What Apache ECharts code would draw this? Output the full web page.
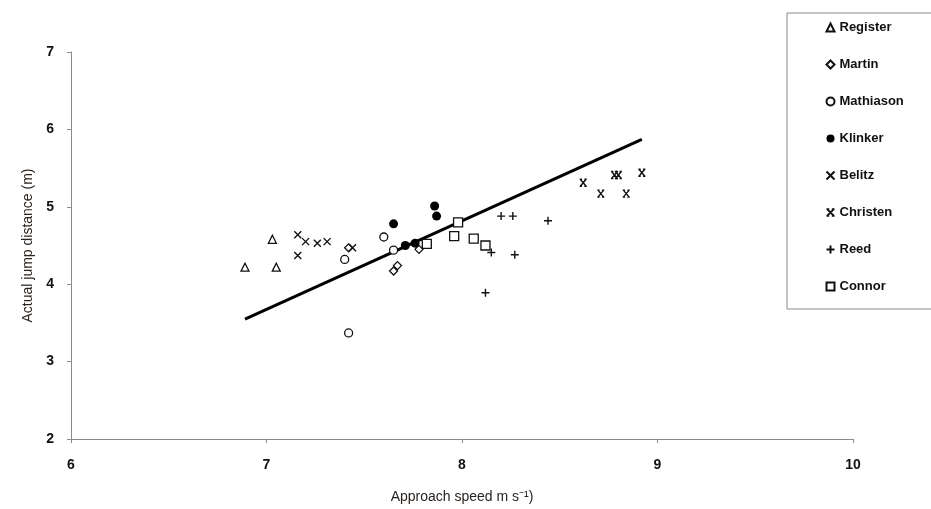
<!DOCTYPE html>
<html>
<head>
    <meta charset="utf-8">
    <title>Approach speed vs jump distance</title>
    <script src="https://cdn.jsdelivr.net/npm/echarts@6/dist/echarts.min.js"></script>
    <style>
        html, body { margin: 0; padding: 0; background: #fff; }
    </style>
</head>
<body>
    <div id="main" style="width: 931px;height:509px;"></div>
<script>
    // data: [approach speed, jump distance]
    var register = [[6.89, 4.22], [7.03, 4.58], [7.05, 4.22]];
    var martin = [[7.42, 4.47], [7.65, 4.17], [7.67, 4.24], [7.78, 4.45]];
    var mathiason = [[7.40, 4.32], [7.42, 3.37], [7.60, 4.61], [7.65, 4.44]];
    var klinker = [[7.65, 4.78], [7.71, 4.50], [7.76, 4.53], [7.86, 5.01], [7.87, 4.88]];
    var belitz = [[7.16, 4.64], [7.20, 4.55], [7.26, 4.53], [7.31, 4.55], [7.16, 4.37], [7.44, 4.47]];
    var christen = [[8.62, 5.31], [8.71, 5.17], [8.78, 5.41], [8.80, 5.41], [8.84, 5.17], [8.92, 5.44]];
    var reed = [[8.20, 4.88], [8.26, 4.88], [8.44, 4.82], [8.15, 4.41], [8.27, 4.38], [8.12, 3.89]];
    var connor = [[7.82, 4.52], [7.98, 4.80], [7.96, 4.62], [8.06, 4.59], [8.12, 4.50]];
    var fitLine = [[6.89, 3.55], [8.92, 5.87]];

    var legendNames = ['Register', 'Martin', 'Mathiason', 'Klinker', 'Belitz', 'Christen', 'Reed', 'Connor'];

    var ink = '#111';
    var hollow = { color: '#fff', borderColor: ink, borderWidth: 1.3, opacity: 1 };
    var stroked = { color: 'none', borderColor: ink, borderWidth: 1.4, opacity: 1 };

    var xPath = 'path://M0,0L10,10M10,0L0,10';
    var bowPath = 'path://M0,0L10,10M10,0L0,10M-1,0L3,0M7,0L11,0M-1,10L3,10M7,10L11,10';
    var plusPath = 'path://M5,0L5,10M0,5L10,5';

    function scatter(name, data, symbol, size, style) {
        return {
            name: name,
            type: 'scatter',
            data: data,
            symbol: symbol,
            symbolSize: size,
            itemStyle: style,
            z: 3
        };
    }

    var option = {
        backgroundColor: '#fff',
        animation: false,
        grid: { left: 71, right: 78, top: 52, bottom: 69 },
        legend: {
            data: legendNames,
            orient: 'vertical',
            left: 787,
            top: 13,
            padding: [8, 50, 16, 37],
            itemGap: 24,
            itemWidth: 8,
            itemHeight: 8,
            borderColor: '#8a8a8a',
            borderWidth: 1,
            textStyle: { fontFamily: 'Liberation Sans', fontWeight: 'bold', fontSize: 13, color: ink }
        },
        xAxis: {
            type: 'value',
            min: 6,
            max: 10,
            interval: 1,
            name: 'Approach speed m s\u207B\u00B9)',
            nameLocation: 'middle',
            nameGap: 51,
            nameTextStyle: { fontFamily: 'Liberation Sans', fontSize: 14, color: '#2a2420' },
            axisLine: { lineStyle: { color: '#8a8a8a', width: 1 } },
            axisTick: { show: true, length: 4, lineStyle: { color: '#8a8a8a' } },
            axisLabel: { margin: 19, fontFamily: 'Liberation Sans', fontWeight: 'bold', fontSize: 14, color: ink },
            splitLine: { show: false }
        },
        yAxis: {
            type: 'value',
            min: 2,
            max: 7,
            interval: 1,
            name: 'Actual jump distance (m)',
            nameLocation: 'middle',
            nameGap: 36,
            nameTextStyle: { fontFamily: 'Liberation Sans', fontSize: 14, color: '#2a2420' },
            axisLine: { show: true, lineStyle: { color: '#8a8a8a', width: 1 } },
            axisTick: { show: true, length: 4, lineStyle: { color: '#8a8a8a' } },
            axisLabel: { margin: 17, fontFamily: 'Liberation Sans', fontWeight: 'bold', fontSize: 14, color: ink },
            splitLine: { show: false }
        },
        series: [
            {
                name: 'fit',
                type: 'line',
                data: fitLine,
                symbol: 'none',
                silent: true,
                lineStyle: { color: '#000', width: 3 },
                z: 2
            },
            scatter('Register', register, 'triangle', 8, hollow),
            scatter('Martin', martin, 'diamond', 8, hollow),
            scatter('Mathiason', mathiason, 'circle', 8, hollow),
            scatter('Klinker', klinker, 'circle', 9, { color: '#000', opacity: 1 }),
            scatter('Belitz', belitz, xPath, 7, stroked),
            scatter('Christen', christen, bowPath, 7, stroked),
            scatter('Reed', reed, plusPath, 8, stroked),
            scatter('Connor', connor, 'rect', 9, hollow)
        ]
    };

    var myChart = echarts.init(document.getElementById('main'));
    myChart.setOption(option);
</script>
</body>
</html>
